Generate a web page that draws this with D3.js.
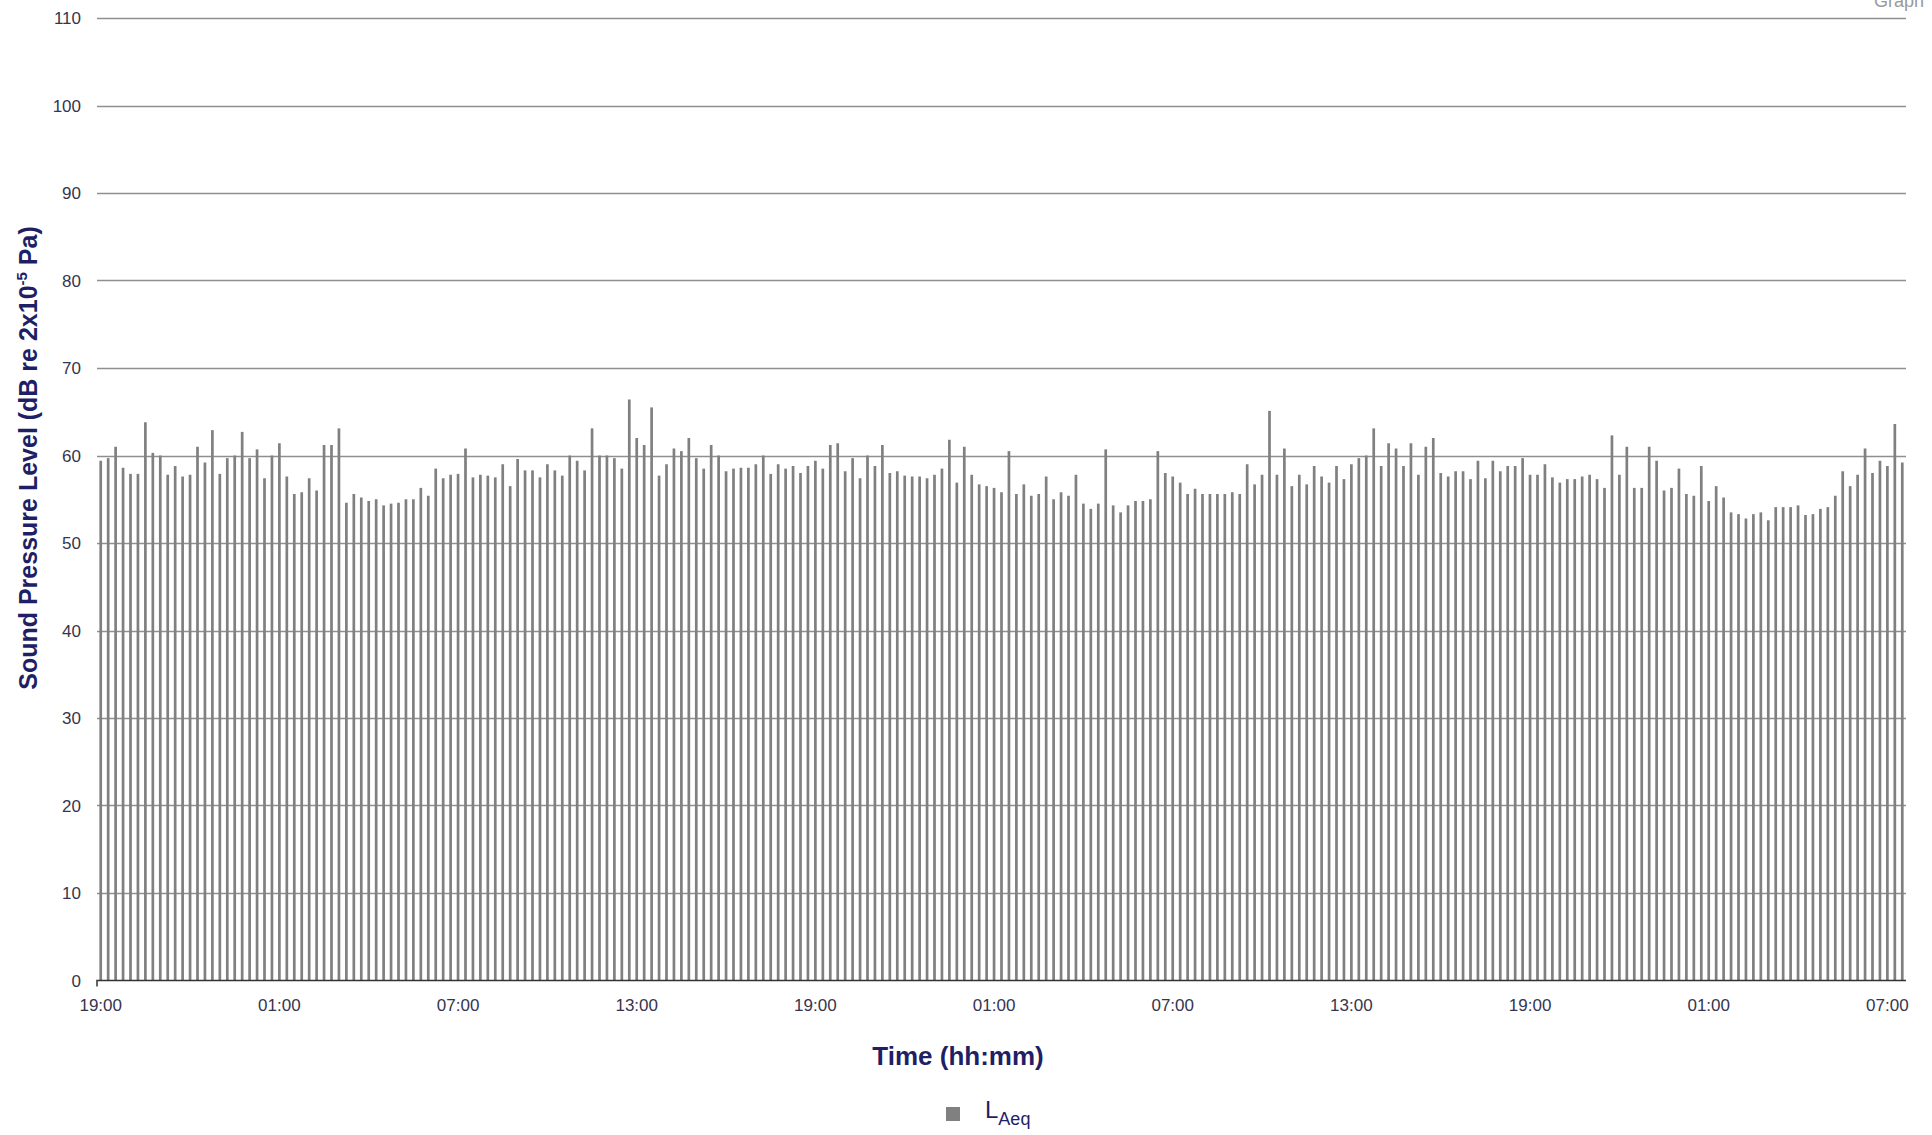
<!DOCTYPE html>
<html>
<head>
<meta charset="utf-8">
<script src="https://cdn.jsdelivr.net/npm/d3@7"></script>
<style>
  html, body { margin: 0; padding: 0; background: #fff; }
  svg { display: block; font-family: "Liberation Sans", Arial, sans-serif; }
</style>
</head>
<body>
<svg id="chart" width="1932" height="1135"></svg>
<script>
// DATA - 15 min LAeq values, 19:00 day 1 -> 07:30 day 4
var startTime = new Date(2020, 0, 1, 19, 0);
var laeq = [
  59.4, 59.7, 61.0, 58.6, 57.9, 57.9, 63.8, 60.3, 60.0, 57.8, 58.8, 57.6,
  57.8, 61.0, 59.2, 62.9, 57.9, 59.7, 60.0, 62.7, 59.7, 60.7, 57.4, 60.0,
  61.4, 57.6, 55.6, 55.8, 57.4, 56.0, 61.2, 61.2, 63.1, 54.6, 55.6, 55.2,
  54.8, 55.0, 54.3, 54.5, 54.6, 55.0, 55.0, 56.3, 55.4, 58.5, 57.4, 57.8,
  57.9, 60.8, 57.5, 57.8, 57.7, 57.5, 59.0, 56.5, 59.6, 58.3, 58.3, 57.5,
  59.0, 58.3, 57.7, 60.0, 59.4, 58.3, 63.1, 60.0, 60.0, 59.7, 58.5, 66.4,
  62.0, 61.2, 65.5, 57.7, 59.0, 60.8, 60.5, 62.0, 59.7, 58.5, 61.2, 60.0,
  58.2, 58.5, 58.6, 58.6, 59.0, 60.0, 57.9, 59.0, 58.5, 58.8, 58.0, 58.8,
  59.4, 58.5, 61.2, 61.4, 58.2, 59.7, 57.4, 60.0, 58.8, 61.2, 58.0, 58.2,
  57.7, 57.6, 57.6, 57.4, 57.8, 58.5, 61.8, 56.9, 61.0, 57.8, 56.7, 56.5,
  56.3, 55.8, 60.5, 55.6, 56.7, 55.4, 55.6, 57.6, 55.0, 55.8, 55.4, 57.8,
  54.5, 53.9, 54.5, 60.7, 54.3, 53.5, 54.3, 54.8, 54.8, 55.0, 60.5, 58.0,
  57.6, 56.9, 55.6, 56.2, 55.6, 55.6, 55.6, 55.6, 55.8, 55.6, 59.0, 56.7,
  57.8, 65.1, 57.8, 60.8, 56.5, 57.8, 56.7, 58.8, 57.6, 56.9, 58.8, 57.3,
  59.0, 59.7, 60.0, 63.1, 58.8, 61.4, 60.8, 58.8, 61.4, 57.8, 61.0, 62.0,
  58.0, 57.6, 58.2, 58.2, 57.3, 59.4, 57.4, 59.4, 58.2, 58.8, 58.8, 59.7,
  57.8, 57.8, 59.0, 57.5, 56.9, 57.3, 57.3, 57.6, 57.8, 57.3, 56.3, 62.3,
  57.8, 61.0, 56.3, 56.3, 61.0, 59.4, 56.0, 56.3, 58.5, 55.6, 55.4, 58.8,
  54.8, 56.5, 55.2, 53.5, 53.3, 52.8, 53.3, 53.5, 52.6, 54.1, 54.1, 54.1,
  54.3, 53.2, 53.3, 53.9, 54.1, 55.4, 58.2, 56.5, 57.8, 60.8, 58.0, 59.4,
  58.8, 63.6, 59.2
];
var yTicks = [0, 10, 20, 30, 40, 50, 60, 70, 80, 90, 100, 110];
var tickLabels = ["19:00", "01:00", "07:00", "13:00", "19:00", "01:00", "07:00", "13:00", "19:00", "01:00", "07:00"];

// category = time stamp of each 15 min period
var times = laeq.map(function (d, i) { return new Date(startTime.getTime() + i * 15 * 60000); });

// CANVAS VARIABLES
var svg = d3.select("#chart");
var plotLeft = 97, plotRight = 1906, plotTop = 18, plotBottom = 980.5;
var barW = 2.7;

var step = (plotRight - plotLeft) / laeq.length;
var pad = 1 - barW / step;
var x = d3.scaleBand()
    .domain(times)
    .range([plotLeft, plotRight])
    .paddingInner(pad)
    .paddingOuter(pad / 2);
var y = d3.scaleLinear().domain([0, 110]).range([plotBottom, plotTop]);

var titleColor = "#1f1f66";
var tickColor = "#35354f";

// GRIDLINES
svg.append("g")
    .selectAll("line")
    .data(yTicks.filter(function (d) { return d > 0; }))
    .join("line")
    .attr("x1", plotLeft).attr("x2", plotRight)
    .attr("y1", function (d) { return Math.round(y(d)) + 0.5; })
    .attr("y2", function (d) { return Math.round(y(d)) + 0.5; })
    .attr("stroke", "#8f8f8f")
    .attr("stroke-width", 1.3);

// BARS
svg.append("g")
    .selectAll("rect")
    .data(laeq)
    .join("rect")
    .attr("x", function (d, i) { return x(times[i]); })
    .attr("y", function (d) { return y(d); })
    .attr("width", x.bandwidth())
    .attr("height", function (d) { return plotBottom - y(d); })
    .attr("fill", "#808080");

// Y AXIS LABELS
svg.append("g")
    .selectAll("text")
    .data(yTicks)
    .join("text")
    .attr("x", 81)
    .attr("y", function (d) { return y(d); })
    .attr("dy", "0.36em")
    .attr("text-anchor", "end")
    .attr("font-size", 17)
    .attr("fill", tickColor)
    .text(function (d) { return d; });

// X AXIS - a label every 24 periods (6 h)
var xAxis = d3.axisBottom(x)
    .tickValues(times.filter(function (d, i) { return i % 24 === 0; }))
    .tickFormat(function (d, i) { return tickLabels[i]; })
    .tickSize(0)
    .tickPadding(18);

var gx = svg.append("g")
    .attr("transform", "translate(0," + plotBottom + ")")
    .call(xAxis);
gx.select(".domain").attr("stroke", "#333").attr("stroke-width", 1.5)
    .attr("d", "M" + plotLeft + ",6V0H" + plotRight);
gx.selectAll("text")
    .attr("font-size", 17)
    .attr("font-family", "Liberation Sans, Arial, sans-serif")
    .attr("fill", tickColor);

// AXIS TITLES
svg.append("text")
    .attr("x", 958)
    .attr("y", 1065)
    .attr("text-anchor", "middle")
    .attr("font-size", 26)
    .attr("font-weight", "bold")
    .attr("fill", titleColor)
    .text("Time (hh:mm)");

var yTitle = svg.append("text")
    .attr("transform", "translate(37,458) rotate(-90)")
    .attr("text-anchor", "middle")
    .attr("font-size", 25)
    .attr("font-weight", "bold")
    .attr("fill", titleColor);
yTitle.append("tspan").text("Sound Pressure Level (dB re 2x10");
yTitle.append("tspan").attr("dy", -10).attr("font-size", 15).text("-5");
yTitle.append("tspan").attr("dy", 10).text(" Pa)");

// LEGEND
svg.append("rect")
    .attr("x", 946).attr("y", 1107)
    .attr("width", 14).attr("height", 14)
    .attr("fill", "#808080");
var leg = svg.append("text")
    .attr("x", 985).attr("y", 1118)
    .attr("font-size", 24)
    .attr("fill", titleColor);
leg.append("tspan").text("L");
leg.append("tspan").attr("dy", 7).attr("font-size", 18).text("Aeq");

// clipped title in the corner
svg.append("text")
    .attr("x", 1924).attr("y", 7)
    .attr("text-anchor", "end")
    .attr("font-size", 18)
    .attr("fill", "#9a9a9a")
    .text("Graph");
</script>
</body>
</html>
